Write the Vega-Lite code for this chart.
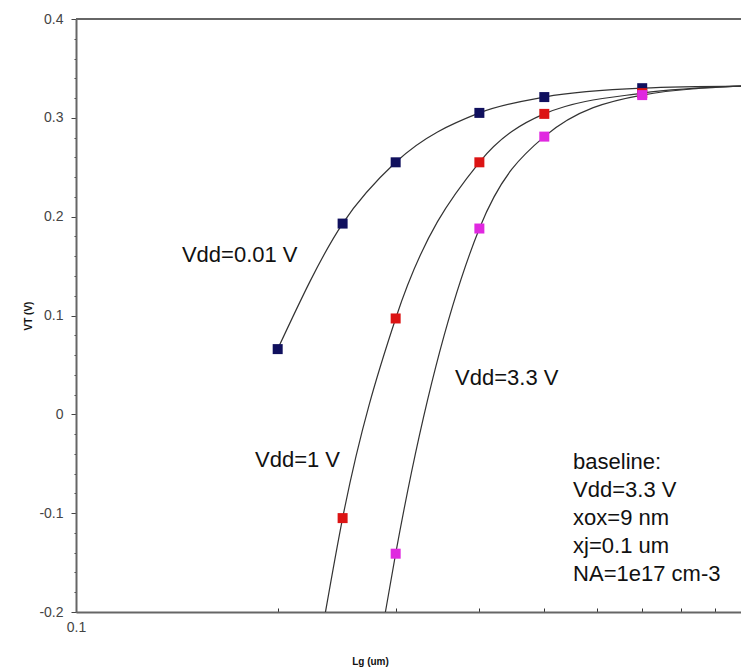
{
  "$schema": "https://vega.github.io/schema/vega-lite/v6.json",
  "width": 665,
  "height": 593,
  "autosize": {"type": "none"},
  "padding": {"left": 76, "top": 19, "right": 0, "bottom": 59},
  "background": "white",
  "config": {
    "view": {"stroke": null},
    "font": "Liberation Sans"
  },
  "datasets": {
    "markers": [
      {"series": "Vdd=0.01 V", "Lg": 0.2, "VT": 0.066},
      {"series": "Vdd=0.01 V", "Lg": 0.25, "VT": 0.193},
      {"series": "Vdd=0.01 V", "Lg": 0.3, "VT": 0.255},
      {"series": "Vdd=0.01 V", "Lg": 0.4, "VT": 0.305},
      {"series": "Vdd=0.01 V", "Lg": 0.5, "VT": 0.321},
      {"series": "Vdd=0.01 V", "Lg": 0.7, "VT": 0.33},
      {"series": "Vdd=1 V", "Lg": 0.25, "VT": -0.105},
      {"series": "Vdd=1 V", "Lg": 0.3, "VT": 0.097},
      {"series": "Vdd=1 V", "Lg": 0.4, "VT": 0.255},
      {"series": "Vdd=1 V", "Lg": 0.5, "VT": 0.304},
      {"series": "Vdd=1 V", "Lg": 0.7, "VT": 0.325},
      {"series": "Vdd=3.3 V", "Lg": 0.3, "VT": -0.141},
      {"series": "Vdd=3.3 V", "Lg": 0.4, "VT": 0.188},
      {"series": "Vdd=3.3 V", "Lg": 0.5, "VT": 0.281},
      {"series": "Vdd=3.3 V", "Lg": 0.7, "VT": 0.323}
    ],
    "curves": [
      {"series": "a", "Lg": 0.2, "VT": 0.066},
      {"series": "a", "Lg": 0.25, "VT": 0.193},
      {"series": "a", "Lg": 0.3, "VT": 0.255},
      {"series": "a", "Lg": 0.4, "VT": 0.305},
      {"series": "a", "Lg": 0.5, "VT": 0.321},
      {"series": "a", "Lg": 0.7, "VT": 0.33},
      {"series": "a", "Lg": 0.983, "VT": 0.332},
      {"series": "b", "Lg": 0.2357, "VT": -0.2},
      {"series": "b", "Lg": 0.25, "VT": -0.105},
      {"series": "b", "Lg": 0.3, "VT": 0.097},
      {"series": "b", "Lg": 0.4, "VT": 0.255},
      {"series": "b", "Lg": 0.5, "VT": 0.304},
      {"series": "b", "Lg": 0.7, "VT": 0.325},
      {"series": "b", "Lg": 0.983, "VT": 0.332},
      {"series": "c", "Lg": 0.2896, "VT": -0.2},
      {"series": "c", "Lg": 0.3, "VT": -0.141},
      {"series": "c", "Lg": 0.4, "VT": 0.188},
      {"series": "c", "Lg": 0.5, "VT": 0.281},
      {"series": "c", "Lg": 0.7, "VT": 0.323},
      {"series": "c", "Lg": 0.983, "VT": 0.332}
    ],
    "labels": [
      {"Lg": 0.1439, "VT": 0.161, "text": "Vdd=0.01 V"},
      {"Lg": 0.185, "VT": -0.0462, "text": "Vdd=1 V"},
      {"Lg": 0.368, "VT": 0.0368, "text": "Vdd=3.3 V"}
    ],
    "note": [
      {"Lg": 0.552, "VT": -0.0483, "text": "baseline:"},
      {"Lg": 0.552, "VT": -0.0766, "text": "Vdd=3.3 V"},
      {"Lg": 0.552, "VT": -0.1049, "text": "xox=9 nm"},
      {"Lg": 0.552, "VT": -0.1333, "text": "xj=0.1 um"},
      {"Lg": 0.552, "VT": -0.1616, "text": "NA=1e17 cm-3"}
    ],
    "frame": [
      {"Lg": 0.1, "VT": 0.4},
      {"Lg": 0.983, "VT": 0.4}
    ]
  },
  "encoding": {
    "x": {
      "field": "Lg",
      "type": "quantitative",
      "scale": {"type": "log", "domain": [0.1, 0.983], "nice": false},
      "axis": {
        "title": "Lg (um)",
        "titleFont": "Liberation Sans",
        "titleFontSize": 10,
        "titleFontWeight": "bold",
        "titleColor": "#111",
        "titleX": 294,
        "titleY": 44,
        "values": [0.1, 0.2, 0.3, 0.4, 0.5, 0.6, 0.7, 0.8, 0.9],
        "labelExpr": "datum.value == 0.1 ? '0.1' : ''",
        "labelFlush": false,
        "labelFontSize": 14,
        "labelColor": "#444",
        "labelPadding": 12,
        "tickSize": -4,
        "tickColor": "#333",
        "domainColor": "#666",
        "domainWidth": 2,
        "grid": false
      }
    },
    "y": {
      "field": "VT",
      "type": "quantitative",
      "scale": {"domain": [-0.2, 0.4], "nice": false, "zero": false},
      "axis": {
        "title": "VT (V)",
        "titleFont": "Liberation Sans",
        "titleFontSize": 10,
        "titleFontWeight": "bold",
        "titleColor": "#111",
        "titlePadding": 5,
        "values": [-0.2, -0.18, -0.16, -0.14, -0.12, -0.1, -0.08, -0.06, -0.04, -0.02, 0, 0.02, 0.04, 0.06, 0.08, 0.1, 0.12, 0.14, 0.16, 0.18, 0.2, 0.22, 0.24, 0.26, 0.28, 0.3, 0.32, 0.34, 0.36, 0.38, 0.4],
        "labelExpr": "abs(round(datum.value*10) - datum.value*10) < 0.001 ? replace(format(datum.value, '.1~f'), '\u2212', '-') : ''",
        "labelFlush": false,
        "labelFontSize": 14,
        "labelColor": "#444",
        "labelPadding": 8,
        "tickSize": {"condition": {"test": "abs(round(datum.value*10) - datum.value*10) < 0.001", "value": 5}, "value": 2},
        "tickColor": "#444",
        "domainColor": "#666",
        "domainWidth": 2,
        "grid": false
      }
    }
  },
  "layer": [
    {
      "data": {"name": "frame"},
      "mark": {"type": "line", "color": "#666", "strokeWidth": 2, "clip": false},
      "encoding": {}
    },
    {
      "data": {"name": "curves"},
      "mark": {"type": "line", "color": "#333", "strokeWidth": 1.2, "interpolate": "monotone", "clip": true},
      "encoding": {"detail": {"field": "series"}}
    },
    {
      "data": {"name": "markers"},
      "mark": {"type": "square", "size": 100, "opacity": 1, "filled": true},
      "encoding": {
        "color": {
          "field": "series",
          "type": "nominal",
          "scale": {"domain": ["Vdd=0.01 V", "Vdd=1 V", "Vdd=3.3 V"], "range": ["#10105e", "#dc1414", "#e028e0"]},
          "legend": null
        }
      }
    },
    {
      "data": {"name": "labels"},
      "mark": {"type": "text", "align": "left", "baseline": "middle", "fontSize": 22, "color": "#111", "font": "Liberation Sans"},
      "encoding": {"text": {"field": "text"}}
    },
    {
      "data": {"name": "note"},
      "mark": {"type": "text", "align": "left", "baseline": "middle", "fontSize": 22, "color": "#111", "font": "Liberation Sans"},
      "encoding": {"text": {"field": "text"}}
    }
  ]
}
